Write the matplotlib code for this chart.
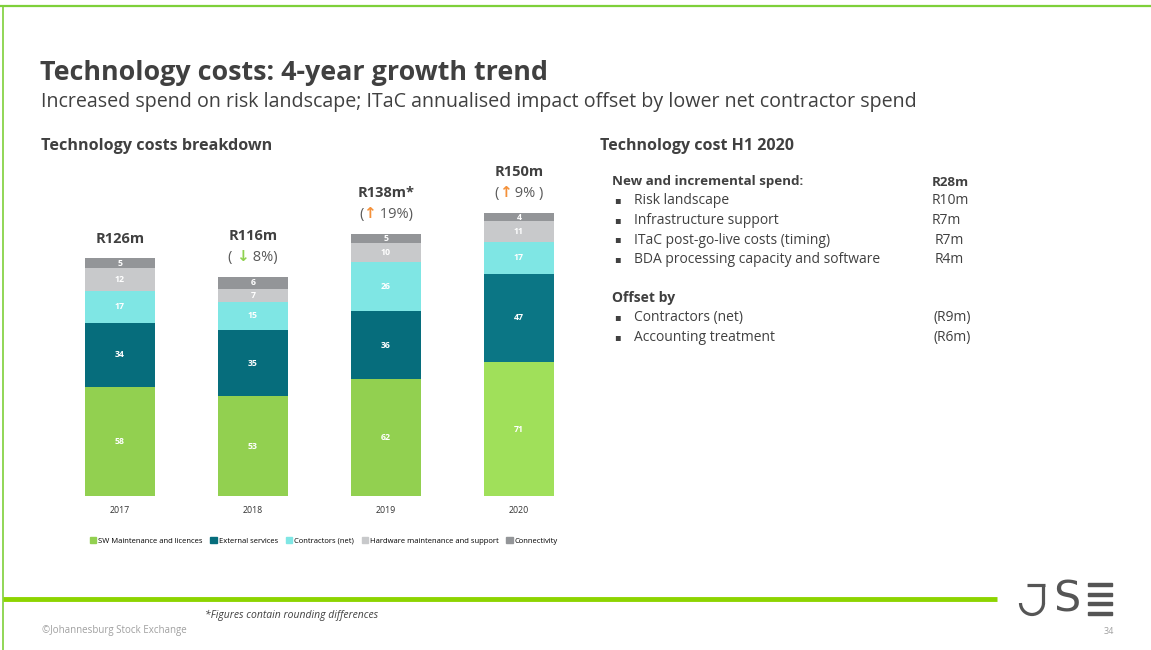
import matplotlib
matplotlib.use('Agg')
import matplotlib.pyplot as plt
from matplotlib.patches import Patch, Rectangle, Arc
from matplotlib.offsetbox import TextArea, HPacker, AnnotationBbox

plt.rcParams['font.family'] = ['Open Sans', 'DejaVu Sans']

# data
years = ['2017', '2018', '2019', '2020']
sw_maint = [58, 53, 62, 71]
ext_services = [34, 35, 36, 47]
contractors = [17, 15, 26, 17]
hw_maint = [12, 7, 10, 11]
connectivity = [5, 6, 5, 4]
series_names = ['SW Maintenance and licences', 'External services', 'Contractors (net)',
                'Hardware maintenance and support', 'Connectivity']
total_labels = ['R126m', 'R116m', 'R138m*', 'R150m']
growth_arrows = ['', '↓', '↑', '↑']
growth_pct = ['', '8%)', '19%)', '9% )']

spend_items = ['Risk landscape', 'Infrastructure support', 'ITaC post-go-live costs (timing)',
               'BDA processing capacity and software']
spend_values = ['R10m', 'R7m', 'R7m', 'R4m']
offset_items = ['Contractors (net)', 'Accounting treatment']
offset_values = ['(R9m)', '(R6m)']

W, H = 1151, 650
fig = plt.figure(figsize=(W / 100, H / 100), dpi=100)

# full page axes in pixel units (y down) for the page decoration
page = fig.add_axes([0, 0, 1, 1])
page.set_xlim(0, W)
page.set_ylim(H, 0)
page.axis('off')

dark = '#404040'
green_line = '#8DD400'


def ptext(x, y, s, **kw):
    kw.setdefault('va', 'center')
    page.text(x, y, s, **kw)


# page frame
page.plot([0, W], [6, 6], color='#7ED03A', lw=1.6)
page.plot([3, 3], [6, H], color='#7ED03A', lw=1.2)
page.plot([3, 997], [599, 599], color=green_line, lw=3.5, solid_capstyle='butt')

ptext(40, 72.5, 'Technology costs: 4-year growth trend', fontsize=19.4, fontweight='bold', color=dark)
ptext(41, 102, 'Increased spend on risk landscape; ITaC annualised impact offset by lower net contractor spend',
      fontsize=14.1, color=dark)
ptext(41, 146.5, 'Technology costs breakdown', fontsize=11.6, fontweight='bold', color=dark)
ptext(600, 146.5, 'Technology cost H1 2020', fontsize=11.5, fontweight='bold', color=dark)

# right panel
ptext(612, 182, 'New and incremental spend:', fontsize=9.6, fontweight='bold', color=dark)
ptext(932, 182, 'R28m', fontsize=9.6, fontweight='bold', color=dark)
for i, (item, val) in enumerate(zip(spend_items, spend_values)):
    y = 201 + i * 19.5
    ptext(614, y, '▪', fontsize=7, color=dark)
    ptext(634, y, item, fontsize=10, color=dark)
    ptext(932 if i < 2 else 935, y, val, fontsize=10, color=dark)
ptext(612, 298, 'Offset by', fontsize=10, fontweight='bold', color=dark)
for i, (item, val) in enumerate(zip(offset_items, offset_values)):
    y = 318 + i * 19.5
    ptext(614, y, '▪', fontsize=7, color=dark)
    ptext(634, y, item, fontsize=10, color=dark)
    ptext(934, y, val, fontsize=10, color=dark)

# chart
scale = 1.885
ax = fig.add_axes([53.5 / W, (H - 496) / H, 532 / W, 170 * scale / H])
ax.set_xlim(-0.5, 3.5)
ax.set_ylim(0, 170)
ax.axis('off')

colors = ['#92D050', '#066D7C', '#7FE6E4', '#C8C9CB', '#939598']
sw_colors = ['#92D050', '#92D050', '#92D050', '#A0E05A']
ext_colors = ['#066D7C', '#066D7C', '#066D7C', '#0B7685']
stack = [sw_maint, ext_services, contractors, hw_maint, connectivity]
x = list(range(len(years)))
bottom = [0] * len(years)
for k, vals in enumerate(stack):
    if k == 0:
        c = sw_colors
    elif k == 1:
        c = ext_colors
    else:
        c = colors[k]
    ax.bar(x, vals, width=0.53, bottom=bottom, color=c, linewidth=0)
    for i, v in enumerate(vals):
        ax.text(x[i], bottom[i] + v / 2, str(v), ha='center', va='center', color='white',
                fontsize=6.3, fontweight='bold')
    bottom = [b + v for b, v in zip(bottom, vals)]

for i in x:
    top = bottom[i]
    ax.text(i, -7.5, years[i], ha='center', va='center', fontsize=6.3, color='#333333', clip_on=False)
    if growth_arrows[i]:
        ax.text(i, top + 21.7, total_labels[i], ha='center', va='center', fontsize=10.5,
                fontweight='bold', color=dark, clip_on=False)
        arrow_col = '#8FD14F' if growth_arrows[i] == '↓' else '#F4913A'
        lead = '( ' if growth_arrows[i] == '↓' else '('
        box = HPacker(children=[
            TextArea(lead, textprops=dict(fontsize=10.5, color='#595959')),
            TextArea(growth_arrows[i], textprops=dict(fontsize=11, color=arrow_col, fontweight='bold',
                                                        family='DejaVu Sans')),
            TextArea(' ' + growth_pct[i], textprops=dict(fontsize=10.5, color='#595959')),
        ], pad=0, sep=0, align='baseline')
        ab = AnnotationBbox(box, (i, top + 10.8), frameon=False, box_alignment=(0.5, 0.5),
                            annotation_clip=False)
        ax.add_artist(ab)
    else:
        ax.text(i, top + 10.3, total_labels[i], ha='center', va='center', fontsize=10.5,
                fontweight='bold', color=dark, clip_on=False)

handles = [Patch(color=c) for c in colors]
fig.legend(handles, series_names, loc='center', bbox_to_anchor=(324 / W, 1 - 541 / H), ncol=5,
           frameon=False, fontsize=5.5, handlelength=0.8, handleheight=0.8,
           handletextpad=0.3, columnspacing=1.0)

# footer
ptext(205, 615, '*Figures contain rounding differences', fontsize=7.5, style='italic', color='#404040')
ptext(42, 631, '©Johannesburg Stock Exchange', fontsize=7, color='#A0A0A0')
ptext(1104, 631, '34', fontsize=6.5, color='#A0A0A0')

# JSE logo
logo = '#555555'
page.plot([1027, 1045], [585, 585], color=logo, lw=2.3, solid_capstyle='butt')
page.plot([1043.5, 1043.5], [585, 603], color=logo, lw=2.3, solid_capstyle='butt')
page.add_patch(Arc((1032, 603), 23, 23, theta1=0, theta2=180, color=logo, lw=2.3))
ptext(1067, 600, 'S', fontsize=31, color=logo, ha='center', family='DejaVu Sans')
for yb in [584, 594, 603, 613]:
    page.add_patch(Rectangle((1088, yb - 1.5), 24, 3.2, color=logo))

fig.savefig('out.png', dpi=100)
